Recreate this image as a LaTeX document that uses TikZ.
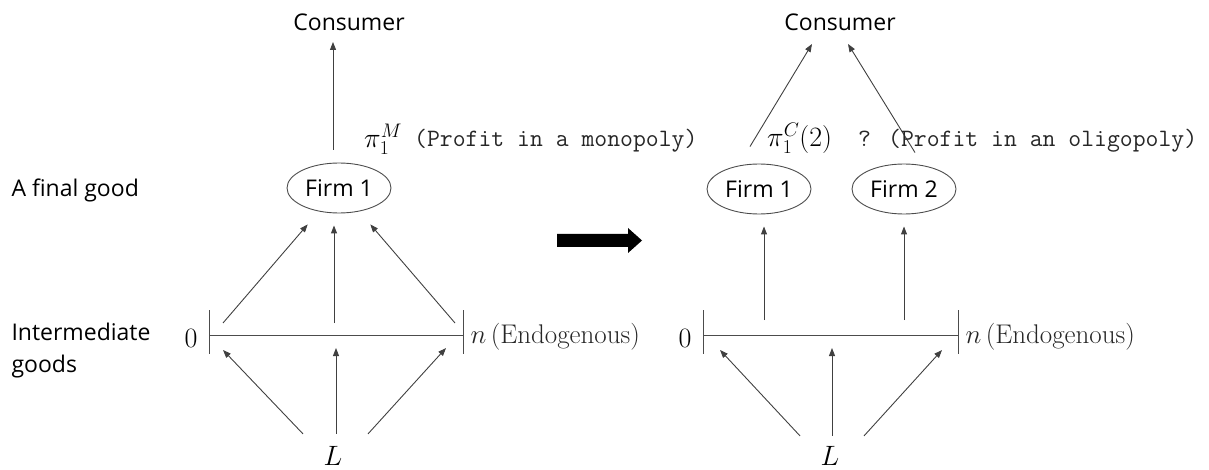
\RequirePackage{fix-cm}
\documentclass[tikz,border=0pt]{standalone}
\usepackage{amsmath,amssymb}
\usepackage{fontspec}
\newfontfamily\gothic{Open Sans}
\usetikzlibrary{arrows.meta,shapes.geometric}

\begin{document}
\begin{tikzpicture}[x=1pt, y=-1pt, >={Triangle[length=8pt,width=6pt]},
    every node/.style={font=\gothic\fontsize{23}{28}\selectfont},
    firm/.style={ellipse, draw=black!70, line width=0.9pt, minimum width=104pt, minimum height=50pt, inner sep=0pt},
    arr/.style={->, draw=black!75, line width=0.9pt},
    axis/.style={draw=black!70, line width=1pt},
    mathlbl/.style={font=\fontsize{28}{32}\selectfont},
    profit/.style={font=\ttfamily\fontsize{25}{30}\selectfont, text=black!85, anchor=west, inner sep=0pt},
    endo/.style={font=\rmfamily\fontsize{27}{30}\selectfont, text=black!85, anchor=west}]
    \useasboundingbox (0,0) rectangle (1209,470);

    % Row labels
    \node[anchor=west] (final) at (8,190) {A final good};
    \node[anchor=west, align=left, font=\gothic\fontsize{23}{32}\selectfont] (inter) at (8,351) {Intermediate\\goods};

    % Monopoly: consumer and firm
    \node (consA) at (349,22) {Consumer};
    \node[firm] (firmA) at (339,188) {Firm 1};
    \draw[arr] ([shift={(-6,-13)}]firmA.north) -- ([shift={(-16,8)}]consA.south);
    \node[mathlbl, anchor=west, inner sep=0pt] (piA) at (364,139) {$\pi_1^M$};
    \node[profit] (profA) at (414,141) {(Profit in a monopoly)};

    % Monopoly: intermediate goods
    \coordinate (zeroA) at (209,335);
    \coordinate (nA) at (463,335);
    \draw[axis] (zeroA) -- (nA);
    \draw[axis] ([shift={(0,-25)}]zeroA) -- ([shift={(0,19)}]zeroA);
    \draw[axis] ([shift={(0,-25)}]nA) -- ([shift={(0,19)}]nA);
    \node[mathlbl, anchor=east] (zeroLblA) at ([shift={(-8,3)}]zeroA) {$0$};
    \node[endo] (nLblA) at ([shift={(4,2)}]nA) {$n$\,(Endogenous)};

    \coordinate (gA1) at (223,323);
    \coordinate (gA2) at (334,323);
    \coordinate (gA3) at (455,323);
    \draw[arr, shorten >=17pt] (gA1) -- (firmA);
    \draw[arr, shorten >=12pt] (gA2) -- (gA2 |- firmA.south);
    \draw[arr, shorten >=17pt] (gA3) -- (firmA);

    % Monopoly: labour
    \node[mathlbl] (LA) at (333,456) {$L$};
    \coordinate (tA1) at (223,350);
    \coordinate (tA2) at (336,348);
    \coordinate (tA3) at (446,348);
    \draw[arr] ([shift={(-30,-9)}]LA.north) -- (tA1);
    \draw[arr] ([shift={(3,-9)}]LA.north) -- (tA2);
    \draw[arr] ([shift={(35,-9)}]LA.north) -- (tA3);

    % Transition
    \fill (557,234) -- (628,234) -- (628,228) -- (642,240.5) -- (628,253) -- (628,247) -- (557,247) -- cycle;

    % Oligopoly: consumer and firms
    \node (consB) at (840,22) {Consumer};
    \node[firm] (firmB1) at (759,189) {Firm 1};
    \node[firm] (firmB2) at (904,189) {Firm 2};
    \draw[arr] ([shift={(-9,-17)}]firmB1.north) -- ([shift={(-28,10)}]consB.south);
    \draw[arr] ([shift={(11,-11)}]firmB2.north) -- ([shift={(8,10)}]consB.south);
    \node[mathlbl, anchor=west, inner sep=0pt] (piB) at (767,138) {$\pi_1^C(2)$};
    \node[profit] (profB) at (858,141) {? (Profit in an oligopoly)};

    % Oligopoly: intermediate goods
    \coordinate (zeroB) at (703,335);
    \coordinate (nB) at (958,335);
    \draw[axis] (zeroB) -- (nB);
    \draw[axis] ([shift={(0,-25)}]zeroB) -- ([shift={(0,19)}]zeroB);
    \draw[axis] ([shift={(0,-25)}]nB) -- ([shift={(0,19)}]nB);
    \node[mathlbl, anchor=east] (zeroLblB) at ([shift={(-8,3)}]zeroB) {$0$};
    \node[endo] (nLblB) at ([shift={(4,2)}]nB) {$n$\,(Endogenous)};

    \coordinate (gB1) at (764,320);
    \coordinate (gB2) at (904,320);
    \draw[arr, shorten >=12pt] (gB1) -- (gB1 |- firmB1.south);
    \draw[arr, shorten >=12pt] (gB2) -- (gB2 |- firmB2.south);

    % Oligopoly: labour
    \node[mathlbl] (LB) at (830,456) {$L$};
    \coordinate (tB1) at (720,350);
    \coordinate (tB2) at (832,348);
    \coordinate (tB3) at (942,350);
    \draw[arr] ([shift={(-30,-7)}]LB.north) -- (tB1);
    \draw[arr] ([shift={(2,-7)}]LB.north) -- (tB2);
    \draw[arr] ([shift={(34,-7)}]LB.north) -- (tB3);
\end{tikzpicture}
\end{document}
